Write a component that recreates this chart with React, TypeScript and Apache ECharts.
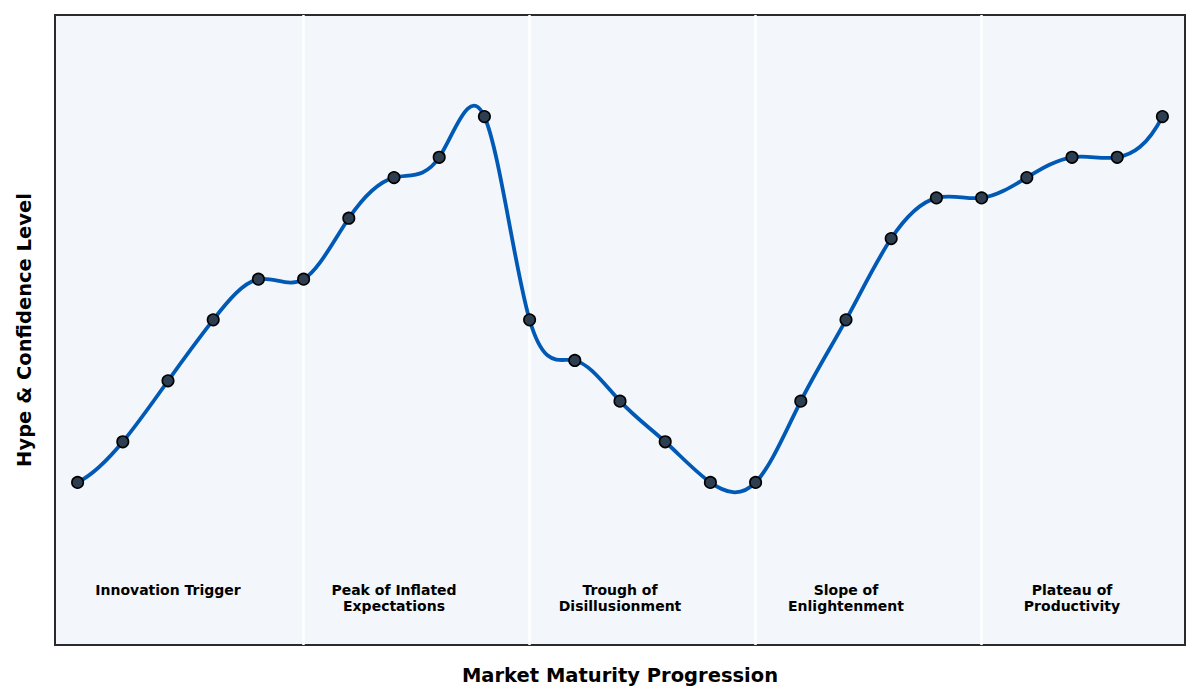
import { useEffect, useRef } from 'react';
import * as echarts from 'echarts';

// hype level at each step of market maturity
const steps = Array.from({ length: 25 }, (_, i) => i);
const hype = [10, 20, 35, 50, 60, 60, 75, 85, 90, 100, 50, 40, 30, 20, 10, 10, 30, 50, 70, 80, 80, 85, 90, 90, 100];

// phase boundaries and labels
const phaseBounds = [5, 10, 15, 20];
const phaseNames = [
  'Innovation Trigger',
  'Peak of Inflated\nExpectations',
  'Trough of\nDisillusionment',
  'Slope of\nEnlightenment',
  'Plateau of\nProductivity',
];
const phaseCenters = [2, 7, 12, 17, 22];
const phaseLabelY = -14.5;

const FONT = 'DejaVu Sans';

// second derivatives of a not-a-knot cubic spline through equally spaced points
function splineM(y: number[]) {
  const n = y.length;
  const A: number[][] = [];
  const b: number[] = [];
  for (let i = 0; i < n; i++) {
    const row = new Array(n).fill(0);
    if (i === 0) {
      row[0] = 1; row[1] = -2; row[2] = 1;
      b.push(0);
    } else if (i === n - 1) {
      row[n - 3] = 1; row[n - 2] = -2; row[n - 1] = 1;
      b.push(0);
    } else {
      row[i - 1] = 1; row[i] = 4; row[i + 1] = 1;
      b.push(6 * (y[i + 1] - 2 * y[i] + y[i - 1]));
    }
    A.push(row);
  }
  // gaussian elimination with partial pivoting
  for (let c = 0; c < n; c++) {
    let p = c;
    for (let r = c + 1; r < n; r++) if (Math.abs(A[r][c]) > Math.abs(A[p][c])) p = r;
    [A[c], A[p]] = [A[p], A[c]];
    [b[c], b[p]] = [b[p], b[c]];
    for (let r = c + 1; r < n; r++) {
      const f = A[r][c] / A[c][c];
      if (!f) continue;
      for (let k = c; k < n; k++) A[r][k] -= f * A[c][k];
      b[r] -= f * b[c];
    }
  }
  const M = new Array(n).fill(0);
  for (let r = n - 1; r >= 0; r--) {
    let s = b[r];
    for (let k = r + 1; k < n; k++) s -= A[r][k] * M[k];
    M[r] = s / A[r][r];
  }
  return M;
}

const App = () => {
  const chartRef = useRef<HTMLDivElement>(null);

  useEffect(() => {
    if (!chartRef.current) return;
    const chart = echarts.init(chartRef.current, null, { renderer: 'svg' });
    const M = splineM(hype);

    const option = {
      animation: false,
      textStyle: { fontFamily: FONT },
      grid: {
        left: 55,
        top: 15,
        width: 1130,
        height: 630,
        show: true,
        backgroundColor: '#f3f6fa',
        borderColor: '#2b2b2b',
        borderWidth: 2,
      },
      xAxis: {
        type: 'value',
        min: -0.5,
        max: 24.5,
        name: 'Market Maturity Progression',
        nameLocation: 'middle',
        nameGap: 20,
        nameTextStyle: { fontFamily: FONT, fontWeight: 'bold', fontSize: 19.5, color: '#000' },
        axisLine: { show: false },
        axisTick: { show: false },
        axisLabel: { show: false },
        splitLine: { show: false },
      },
      yAxis: {
        type: 'value',
        min: -30,
        max: 125,
        name: 'Hype & Confidence Level',
        nameLocation: 'middle',
        nameGap: 20.5,
        nameTextStyle: { fontFamily: FONT, fontWeight: 'bold', fontSize: 19.5, color: '#000' },
        axisLine: { show: false },
        axisTick: { show: false },
        axisLabel: { show: false },
        splitLine: { show: false },
      },
      series: [
        {
          type: 'line',
          z: 1,
          data: [],
          markLine: {
            silent: true,
            z: 1,
            symbol: 'none',
            label: { show: false },
            lineStyle: { color: '#ffffff', width: 2.5, type: 'solid' },
            data: phaseBounds.map((b) => ({ xAxis: b })),
          },
        },
        {
          // smooth spline through the points
          type: 'custom',
          z: 2,
          silent: true,
          data: [[0, hype[0]]],
          renderItem: (_params: any, api: any) => {
            const pt = (x: number, y: number) => api.coord([x, y]);
            const p0 = pt(steps[0], hype[0]);
            let d = `M${p0[0]},${p0[1]}`;
            for (let i = 0; i < hype.length - 1; i++) {
              const dy = hype[i + 1] - hype[i];
              const m0 = dy - (2 * M[i] + M[i + 1]) / 6;
              const m1 = dy + (M[i] + 2 * M[i + 1]) / 6;
              const c1 = pt(steps[i] + 1 / 3, hype[i] + m0 / 3);
              const c2 = pt(steps[i + 1] - 1 / 3, hype[i + 1] - m1 / 3);
              const e = pt(steps[i + 1], hype[i + 1]);
              d += ` C${c1[0]},${c1[1]} ${c2[0]},${c2[1]} ${e[0]},${e[1]}`;
            }
            return {
              type: 'path',
              shape: { pathData: d },
              style: { stroke: '#005ab5', lineWidth: 3.8, fill: 'none' },
            };
          },
        },
        {
          type: 'line',
          z: 3,
          data: steps.map((s, i) => [s, hype[i]]),
          symbol: 'circle',
          symbolSize: 11.5,
          lineStyle: { width: 0, opacity: 0 },
          itemStyle: { color: '#2c3e50', borderColor: '#000000', borderWidth: 1.6 },
        },
        {
          type: 'scatter',
          z: 4,
          symbolSize: 0,
          itemStyle: { opacity: 1 },
          data: phaseCenters.map((c, i) => ({ value: [c, phaseLabelY], name: phaseNames[i] })),
          label: {
            show: true,
            position: 'inside',
            formatter: (p: any) => p.name,
            fontFamily: FONT,
            fontWeight: 'bold',
            fontSize: 14,
            lineHeight: 16,
            color: '#000',
            opacity: 1,
            align: 'center',
            verticalAlign: 'top',
          },
        },
      ],
    };

    chart.setOption(option);
    return () => chart.dispose();
  }, []);

  return (
    <div
      ref={chartRef}
      style={{ position: 'fixed', left: 0, top: 0, width: '1200px', height: '700px', background: '#fff' }}
    />
  );
};

export default App;
